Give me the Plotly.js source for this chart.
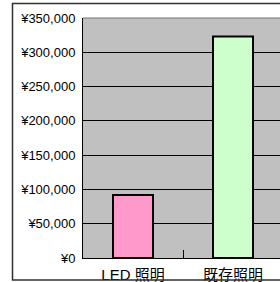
<!DOCTYPE html>
<html>
<head>
<meta charset="utf-8">
<script src="https://cdn.plot.ly/plotly-3.0.1.min.js"></script>
<style>
html,body{margin:0;padding:0;overflow:hidden;background:#fff;width:280px;height:282px;}
#chart{width:300px;height:282px;}
</style>
</head>
<body>
<div id="chart"></div>
<script>
var categories = ["LED 照明", "既存照明"];
var values = [92000, 323000];
var barColors = ["#FF99CC", "#CCFFCC"];
var tickValues = [0, 50000, 100000, 150000, 200000, 250000, 300000, 350000];
var tickLabels = ["¥0", "¥50,000", "¥100,000", "¥150,000", "¥200,000", "¥250,000", "¥300,000", "¥350,000"];

var font = "Liberation Sans, Arial, 'Noto Sans CJK JP', sans-serif";

var trace = {
  type: "bar",
  x: categories,
  y: values,
  width: 0.4,
  marker: {color: barColors, line: {color: "#000000", width: 2}},
  hoverinfo: "none"
};

var layout = {
  width: 300,
  height: 282,
  margin: {l: 83, r: 17, t: 18, b: 24},
  paper_bgcolor: "#ffffff",
  plot_bgcolor: "#C0C0C0",
  showlegend: false,
  font: {family: font, size: 13, color: "#000000"},
  xaxis: {
    type: "category",
    tickson: "boundaries",
    ticks: "inside",
    ticklen: 8,
    tickcolor: "#000000",
    tickwidth: 1,
    showline: true,
    linecolor: "#000000",
    linewidth: 1,
    showgrid: false,
    tickfont: {family: font, size: 15, color: "#000000"},
    ticklabelstandoff: 3,
    fixedrange: true
  },
  yaxis: {
    range: [0, 350000],
    tickmode: "array",
    tickvals: tickValues,
    ticktext: tickLabels,
    ticks: "",
    showline: true,
    linecolor: "#000000",
    linewidth: 1,
    showgrid: true,
    gridcolor: "#000000",
    gridwidth: 1,
    zeroline: false,
    ticklabelstandoff: 4,
    tickfont: {family: font, size: 13, color: "#000000"},
    fixedrange: true
  },
  shapes: [
    {type: "line", xref: "paper", yref: "paper", x0: 0, x1: 1.2, y0: 1, y1: 1,
     line: {color: "#707070", width: 1}},
    {type: "rect", xref: "paper", yref: "paper", x0: -0.3525, x1: 1.3, y0: -0.0917, y1: 1.06,
     line: {color: "#303030", width: 1.5}, fillcolor: "rgba(0,0,0,0)", layer: "above"}
  ]
};

Plotly.newPlot("chart", [trace], layout, {displayModeBar: false, staticPlot: true});
</script>
</body>
</html>
